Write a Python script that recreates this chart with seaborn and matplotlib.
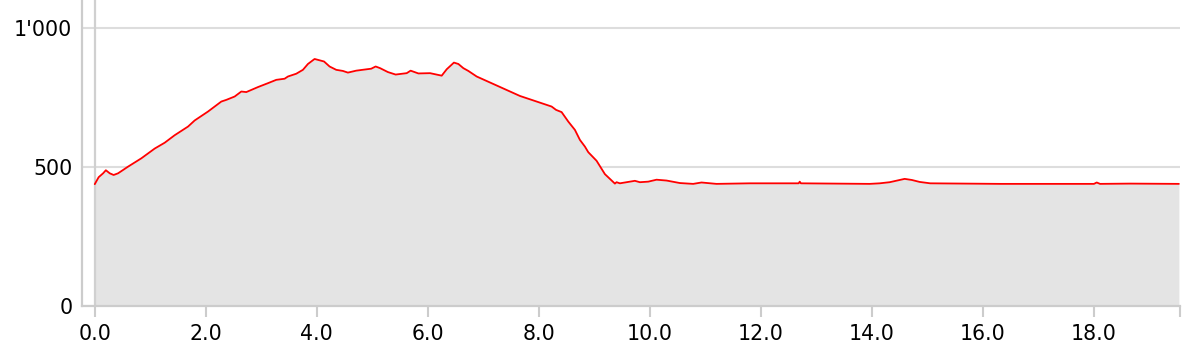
import matplotlib
matplotlib.use("Agg")
import matplotlib.pyplot as plt
import matplotlib.ticker as mticker
import numpy as np
import pandas as pd
import seaborn as sns

distance_km = [0.00, 0.07, 0.15, 0.20, 0.27, 0.34, 0.42, 0.60, 0.84, 1.08, 1.26, 1.44,
               1.68, 1.80, 2.04, 2.28, 2.37, 2.52, 2.64, 2.73, 2.94, 3.12, 3.27, 3.42,
               3.48, 3.63, 3.75, 3.84, 3.96, 4.13, 4.23, 4.35, 4.47, 4.56, 4.71, 4.90,
               4.98, 5.06, 5.14, 5.28, 5.42, 5.62, 5.69, 5.83, 6.04, 6.25, 6.34, 6.47,
               6.55, 6.64, 6.73, 6.88, 7.66, 8.20, 8.23, 8.31, 8.41, 8.53, 8.65, 8.74,
               8.83, 8.89, 9.04, 9.19, 9.37, 9.40, 9.46, 9.73, 9.82, 9.97, 10.12, 10.30,
               10.54, 10.78, 10.93, 11.20, 11.80, 12.68, 12.70, 12.72, 13.96, 14.14, 14.32,
               14.50, 14.59, 14.72, 14.86, 15.05, 16.31, 18.00, 18.05, 18.11, 18.65, 19.53]
elevation_m = [438, 463, 477, 488, 477, 471, 477, 501, 531, 566, 587, 614,
               645, 667, 699, 735, 741, 753, 771, 769, 787, 801, 813, 817,
               825, 835, 849, 870, 888, 879, 861, 849, 845, 839, 846, 851,
               853, 861, 855, 841, 832, 837, 846, 836, 837, 828, 851, 875,
               870, 855, 845, 825, 755, 719, 717, 705, 697, 663, 633, 597,
               573, 553, 522, 474, 440, 445, 441, 450, 445, 447, 454, 451,
               442, 439, 444, 439, 441, 441, 447, 441, 439, 441, 445,
               453, 457, 453, 446, 441, 439, 439, 444, 439, 440, 439]

x_ticks = [0, 2, 4, 6, 8, 10, 12, 14, 16, 18]
y_ticks = [0, 500, 1000]

df = pd.DataFrame({"km": distance_km, "m": elevation_m})

sns.set_style("white")
plt.rcParams["font.family"] = ["DejaVu Sans"]

fig = plt.figure(figsize=(12.02, 3.64), dpi=100)
ax = fig.add_axes([82 / 1202, (364 - 306) / 364, (1180 - 82) / 1202, 306 / 364])

ax.fill_between(df["km"], df["m"], 0, color="#e4e4e4", lw=0, zorder=1)
sns.lineplot(data=df, x="km", y="m", ax=ax, color="#ff0000", lw=1.3, zorder=3)

ax.set_xlim(-0.23, 19.55)
ax.set_ylim(0, 1100)
ax.set_xticks(x_ticks)
ax.set_xticks([19.55], minor=True)
ax.set_yticks(y_ticks)
ax.xaxis.set_major_formatter(mticker.FuncFormatter(lambda v, p: f"{v:.1f}"))
ax.yaxis.set_major_formatter(mticker.FuncFormatter(lambda v, p: f"{int(v):,}".replace(",", "'")))

ax.grid(axis="y", color="#dddddd", lw=1.5, zorder=0)
ax.set_axisbelow(True)
ax.axvline(0, color="#d0d0d0", lw=1.6, zorder=2)

for s in ["top", "right"]:
    ax.spines[s].set_visible(False)
for s in ["left", "bottom"]:
    ax.spines[s].set_color("#cccccc")
    ax.spines[s].set_linewidth(1.6)

ax.tick_params(axis="x", which="both", length=8, width=1.5, color="#cccccc", pad=5,
               labelsize=14.8, labelcolor="#000000", direction="out", bottom=True)
ax.tick_params(axis="y", length=0, pad=7, labelsize=14.8, labelcolor="#000000")
ax.set_xlabel("")
ax.set_ylabel("")

fig.savefig("out.png", dpi=100)
